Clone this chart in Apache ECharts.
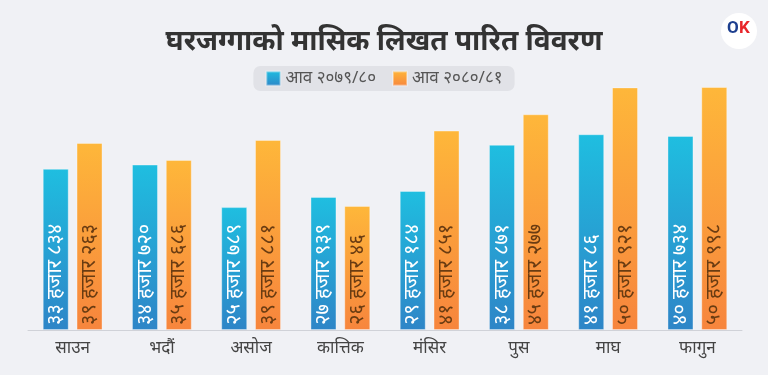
<!DOCTYPE html>
<html>
<head>
<meta charset="utf-8">
<script src="https://cdn.jsdelivr.net/npm/echarts@6/dist/echarts.min.js"></script>
<style>
  html, body { margin: 0; padding: 0; background: #f0f1f5; }
  #chart { width: 768px; height: 375px; }
</style>
</head>
<body>
<div id="chart"></div>
<script>
var months = ['साउन', 'भदौं', 'असोज', 'कात्तिक', 'मंसिर', 'पुस', 'माघ', 'फागुन'];
var fy7980 = [33834, 34720, 25789, 27939, 29184, 38871, 41086, 40734];
var fy8081 = [39263, 35686, 39881, 26046, 41851, 45277, 50921, 50998];
var seriesNames = ['आव २०७९/८०', 'आव २०८०/८१'];

var devDigits = '०१२३४५६७८९';
function toDev(n) {
    return String(n).replace(/[0-9]/g, function (d) { return devDigits[+d]; });
}
// "३३ हजार ८३४" jasto format
function hajar(v) {
    return toDev(Math.floor(v / 1000)) + ' हजार ' + toDev(v % 1000);
}

var chart = echarts.init(document.getElementById('chart'));

var barLabel = {
    show: true,
    position: 'insideBottom',
    rotate: 90,
    align: 'left',
    verticalAlign: 'middle',
    distance: 5,
    fontSize: 20,
    formatter: function (p) { return hajar(p.value); }
};

var option = {
    backgroundColor: '#f0f1f5',
    textStyle: { fontFamily: 'Noto Sans, sans-serif' },
    title: {
        text: 'घरजग्गाको मासिक लिखत पारित विवरण',
        left: 'center',
        top: 23,
        textStyle: { fontSize: 28, fontWeight: 'bold', color: '#333' }
    },
    legend: {
        top: 66,
        left: 'center',
        data: seriesNames,
        backgroundColor: '#e1e2e7',
        borderRadius: 7,
        padding: [4, 12],
        itemWidth: 14,
        itemHeight: 14,
        itemGap: 16,
        icon: 'rect',
        textStyle: { fontSize: 17, color: '#555' }
    },
    grid: { left: 28, right: 26, top: 87, bottom: 45 },
    xAxis: {
        type: 'category',
        data: months,
        axisLine: { lineStyle: { color: '#d0d2d8' } },
        axisTick: { show: false },
        axisLabel: { fontSize: 17, color: '#444', margin: 10 }
    },
    yAxis: {
        type: 'value',
        min: 0,
        max: 51000,
        show: false,
        splitLine: { show: false }
    },
    graphic: [{
        type: 'circle',
        shape: { cx: 739, cy: 31, r: 18 },
        style: { fill: '#ffffff' }
    }, {
        type: 'text',
        style: { text: 'O', x: 727, y: 20, fill: '#1d3f8f', font: 'bold 17px Roboto' }
    }, {
        type: 'text',
        style: { text: 'K', x: 739, y: 20, fill: '#e8262a', font: 'bold 17px Roboto' }
    }],
    series: [{
        name: seriesNames[0],
        type: 'bar',
        data: fy7980,
        barWidth: 26,
        barGap: '30%',
        itemStyle: {
            color: new echarts.graphic.LinearGradient(0, 0, 0, 1, [
                { offset: 0, color: '#1fbee0' },
                { offset: 1, color: '#2e85c7' }
            ]),
            borderColor: 'rgba(255,255,255,0.35)',
            borderWidth: 1
        },
        label: Object.assign({}, barLabel, { color: '#ffffff' })
    }, {
        name: seriesNames[1],
        type: 'bar',
        data: fy8081,
        barWidth: 26,
        itemStyle: {
            color: new echarts.graphic.LinearGradient(0, 0, 0, 1, [
                { offset: 0, color: '#feb73a' },
                { offset: 1, color: '#f7853d' }
            ]),
            borderColor: 'rgba(255,255,255,0.35)',
            borderWidth: 1
        },
        label: Object.assign({}, barLabel, { color: '#6a3c12' })
    }],
    color: ['#2f8fd0', '#f98c3d']
};

option && chart.setOption(option);
window.addEventListener('resize', chart.resize);
</script>
</body>
</html>
